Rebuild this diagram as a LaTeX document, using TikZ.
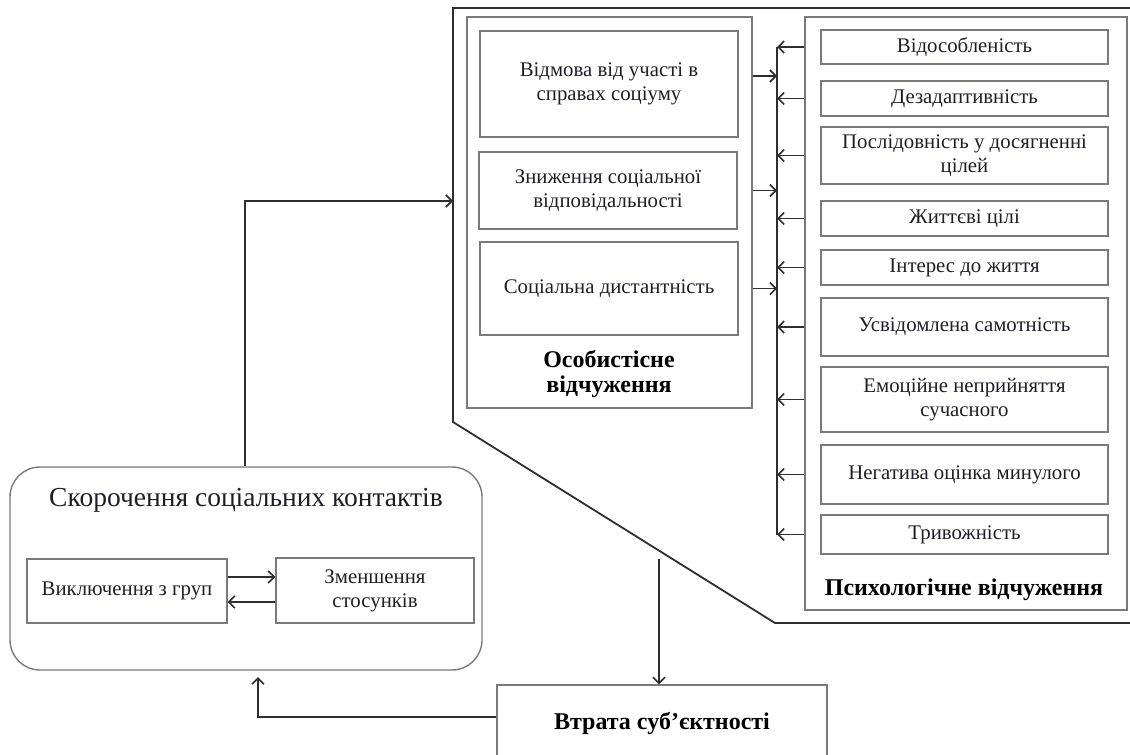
\documentclass[tikz,border=0pt]{standalone}
\usepackage{fontspec}
\setmainfont{Liberation Serif}
\usetikzlibrary{arrows.meta}
\definecolor{boxgray}{HTML}{7A7A7A}
\definecolor{linec}{HTML}{2E2E2E}
\definecolor{txt}{HTML}{1E1E28}
\tikzset{
  box/.style={draw=boxgray, line width=1.4pt, inner sep=2pt, align=center, text=txt,
    font=\fontsize{20.8}{24}\selectfont},
  frame/.style={draw=boxgray, line width=1.4pt, inner sep=0pt},
  arr/.style={draw=linec, line width=1.8pt, -{Straight Barb[length=6pt,width=12pt,line width=1.6pt]}},
  ln/.style={draw=linec, line width=1.8pt},
  ttl/.style={font=\bfseries\fontsize{24}{25}\selectfont, align=center, text=black},
}
\newcommand{\bx}[6]{% name, x1, y1, x2, y2, text
  \node[box, minimum width={#4-#2}, minimum height={#5-#3}]
    (#1) at ({(#2+#4)/2},{(#3+#5)/2}) {#6};}
\begin{document}
\begin{tikzpicture}[x=1pt,y=-1pt]
\useasboundingbox (0,0) rectangle (1130,755);
% big polygon
\draw[ln] (1140,8) -- (453,8) -- (453,422) -- (775,623) -- (1140,623);
\coordinate (pin) at (453,201);
\coordinate (pout) at (659,559);

% left group frame
\node[frame, minimum width=285, minimum height=391] (lout) at (609.5,212.5) {};
\bx{l1}{480}{31}{738}{137}{Відмова від участі в\\справах соціуму}
\bx{l2}{479}{152}{737}{229}{Зниження соціальної\\відповідальності}
\bx{l3}{480}{242}{738}{335}{Соціальна дистантність}
\node[ttl] (ltitle) at (609,374) {Особистісне\\відчуження};

% right group frame
\node[frame, minimum width=322, minimum height=593] (rout) at (966,313.5) {};
\bx{r1}{821}{30}{1108}{64}{Відособленість}
\bx{r2}{821}{81}{1108}{116}{Дезадаптивність}
\bx{r3}{821}{127}{1108}{184}{Послідовність у досягненні\\цілей}
\bx{r4}{821}{201}{1108}{236}{Життєві цілі}
\bx{r5}{821}{250}{1108}{285}{Інтерес до життя}
\bx{r6}{821}{298}{1108}{356}{Усвідомлена самотність}
\bx{r7}{821}{367}{1108}{432}{Емоційне неприйняття\\сучасного}
\bx{r8}{821}{445}{1108}{504}{Негатива оцінка минулого}
\bx{r9}{821}{515}{1108}{554}{Тривожність}
\node[ttl] (rtitle) at (964,590) {Психологічне відчуження};

% bus
\coordinate (bt) at (777,47);
\coordinate (bb) at (777,535);
\draw[ln] (bt) -- (bb);
\foreach \r in {r1,r2,r3,r4,r5,r6,r7,r8,r9}{
  \draw[arr] (rout.west |- \r.center) -- (bt |- \r.center);
}
\draw[arr] (lout.east |- 0,76) -- (bt |- 0,76);
\draw[arr] (lout.east |- l2.center) -- (bt |- l2.center);
\draw[arr] (lout.east |- l3.center) -- (bt |- l3.center);

% social contacts
\node[draw=boxgray, line width=1.4pt, rounded corners=30pt, minimum width=472, minimum height=203, inner sep=0pt]
  (sc) at (246,568.5) {};
\node[font=\fontsize{27.5}{30}\selectfont, text=txt] (sctitle) at (246,500) {Скорочення соціальних контактів};
\bx{vyk}{27}{559}{227}{623}{Виключення з груп}
\bx{zmen}{276}{558}{474}{623}{Зменшення\\стосунків}
\draw[arr] (vyk.east |- 0,577) -- (zmen.west |- 0,577);
\draw[arr] (zmen.west |- 0,602) -- (vyk.east |- 0,602);

% loss of agency
\node[box, minimum width=330, minimum height=72] (vtr) at (662,721) {};
\node[font=\bfseries\fontsize{24}{26}\selectfont, text=black] (vtrtxt) at (662,723) {Втрата суб’єктності};

% connectors
\draw[arr] (sc.north -| 245,0) |- (pin);
\draw[arr] (pout) -- (pout |- vtr.north);
\draw[arr] (vtr.west |- 0,717) -| (258,677);
\end{tikzpicture}
\end{document}
